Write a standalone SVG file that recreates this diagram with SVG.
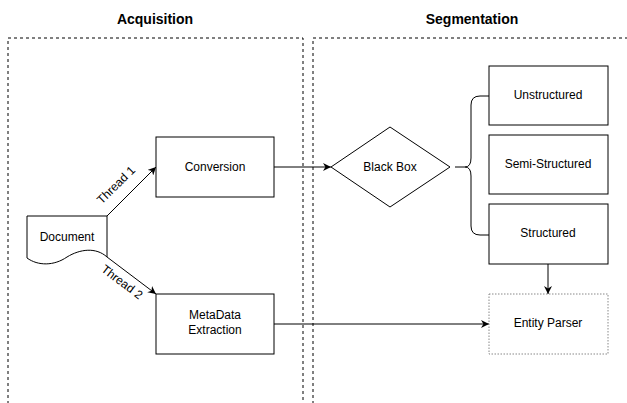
<svg xmlns="http://www.w3.org/2000/svg" width="627" height="403" viewBox="0 0 627 403">
<style>
text{font-family:"Liberation Sans",Arial,sans-serif;font-size:12px;fill:#000;text-anchor:middle}
.title{font-weight:bold;font-size:14px}
.box{fill:#fff;stroke:#000;stroke-width:1}
.cont{fill:none;stroke:#000;stroke-width:1;stroke-dasharray:3 3}
.edge{fill:none;stroke:#000;stroke-width:1}
</style>
<defs>
<marker id="arr" viewBox="0 0 10 10" refX="10" refY="5" markerWidth="8" markerHeight="8" markerUnits="userSpaceOnUse" orient="auto">
<path d="M0,0 L10,5 L0,10 L3,5 Z" fill="#000"/>
</marker>
</defs>
<rect width="627" height="403" fill="#fff"/>
<g id="acquisition">
<path class="cont" d="M8,410 V38 H303 V410"/>
<text class="title" x="155" y="24">Acquisition</text>
</g>
<g id="segmentation">
<path class="cont" d="M313,410 V38 H640"/>
<text class="title" x="472" y="24">Segmentation</text>
</g>
<g id="connectors">
<path class="edge" d="M107,216 L156,167" marker-end="url(#arr)" stroke="#333"/>
<path class="edge" d="M107,257 L156,294" marker-end="url(#arr)" stroke="#333"/>
<path class="edge" d="M274,167 H331" marker-end="url(#arr)"/>
<path class="edge" d="M274,324 H489" marker-end="url(#arr)"/>
<path class="edge" d="M548,264 V294" marker-end="url(#arr)"/>
<path class="edge" d="M455,167 H465 M489,96 H480 Q471,96 471,105 V158 Q471,167 465,167 Q471,167 471,176 V226 Q471,235 480,235 H489" stroke="#333"/>
<text transform="translate(116,185) rotate(-44.5)" y="4">Thread 1</text>
<text transform="translate(122,282) rotate(37)" y="4">Thread 2</text>
</g>
<g id="document">
<path class="box" d="M27,216 H107 V257 C96,247 80,249 67,257 C54,266 38,266 27,258 Z"/>
<text x="67" y="241">Document</text>
</g>
<g id="conversion">
<rect class="box" x="156" y="137" width="118" height="60"/>
<text x="215" y="171">Conversion</text>
</g>
<g id="metadata">
<rect class="box" x="156" y="294" width="118" height="60"/>
<text x="215" y="319">MetaData</text>
<text x="215" y="334">Extraction</text>
</g>
<g id="blackbox">
<path class="box" d="M390,127 L450,167 L390,207 L331,167 Z" stroke="#333"/>
<text x="390" y="171">Black Box</text>
</g>
<g id="unstructured">
<rect class="box" x="489" y="66" width="119" height="59"/>
<text x="548" y="99">Unstructured</text>
</g>
<g id="semistructured">
<rect class="box" x="489" y="135" width="119" height="59"/>
<text x="548" y="168">Semi-Structured</text>
</g>
<g id="structured">
<rect class="box" x="489" y="204" width="119" height="60"/>
<text x="548" y="237">Structured</text>
</g>
<g id="entityparser">
<rect x="489" y="294" width="119" height="60" fill="#fff" stroke="#888" stroke-dasharray="1.5 1.5"/>
<text x="548" y="327">Entity Parser</text>
</g>
</svg>
